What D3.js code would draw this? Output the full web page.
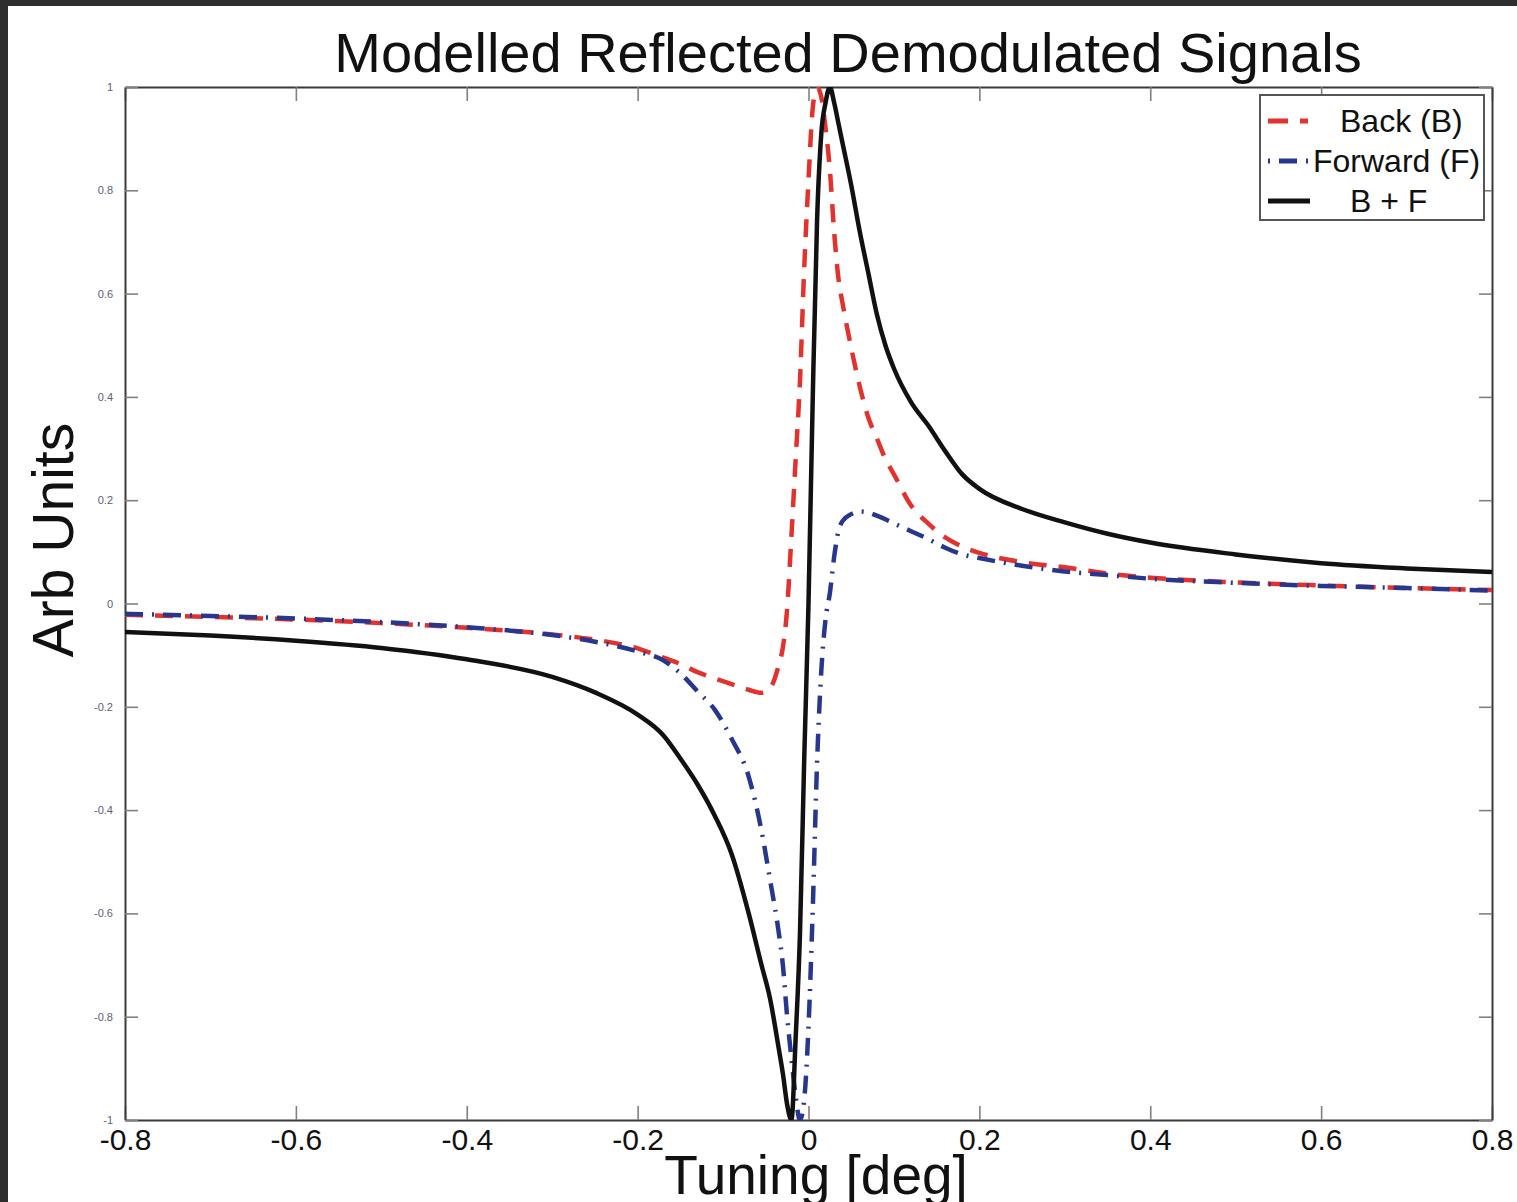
<!DOCTYPE html>
<html>
<head>
<meta charset="utf-8">
<script src="https://cdn.jsdelivr.net/npm/d3@7"></script>
<style>
body{margin:0;background:#2e2e2e;overflow:hidden}
svg{display:block}
text{font-family:"Liberation Sans",Arial,sans-serif}
</style>
</head>
<body>
<svg id="chart" width="1517" height="1202"></svg>
<script>
// tuning angle [deg], shared by the three modelled signals
var tuning = [-0.8,-0.7,-0.6,-0.5,-0.4,-0.3,-0.25,-0.2,
	-0.17,-0.15,-0.13,-0.11,-0.09,-0.07,-0.055,-0.045,-0.035,
	-0.03,-0.025,-0.02,-0.015,-0.01,-0.005,0,
	0.005,0.01,0.015,0.02,0.025,0.03,0.035,0.04,
	0.05,0.06,0.07,0.08,0.09,0.1,
	0.12,0.14,0.16,0.18,0.2,
	0.25,0.3,0.35,0.4,0.5,0.6,0.7,0.8];

var backSignal = [-0.022,-0.026,-0.031,-0.038,-0.047,-0.060,-0.070,-0.087,
	-0.105,-0.117,-0.133,-0.145,-0.156,-0.167,-0.173,-0.164,-0.12,
	-0.085,-0.01,0.13,0.28,0.43,0.65,0.82,
	0.96,1.0,0.98,0.92,0.84,0.72,0.63,0.58,
	0.495,0.42,0.36,0.32,0.28,0.25,
	0.19,0.155,0.128,0.11,0.098,
	0.08,0.07,0.058,0.05,0.041,0.035,0.030,0.026];

var forwardSignal = [-0.020,-0.024,-0.029,-0.036,-0.046,-0.061,-0.074,-0.093,
	-0.110,-0.135,-0.170,-0.205,-0.262,-0.335,-0.44,-0.535,-0.635,
	-0.70,-0.80,-0.88,-0.955,-1.0,-0.96,-0.82,
	-0.59,-0.31,-0.13,-0.03,0.02,0.09,0.14,0.16,
	0.173,0.178,0.176,0.17,0.163,0.155,
	0.14,0.125,0.108,0.095,0.088,
	0.073,0.062,0.055,0.048,0.040,0.034,0.030,0.025];

var sumSignal = [-0.055,-0.062,-0.072,-0.086,-0.108,-0.142,-0.172,-0.215,
	-0.255,-0.30,-0.35,-0.41,-0.485,-0.60,-0.70,-0.765,-0.86,
	-0.91,-0.97,-1.0,-0.84,-0.64,-0.30,0.0,
	0.40,0.74,0.91,0.97,1.0,0.97,0.93,0.89,
	0.81,0.72,0.64,0.56,0.50,0.455,
	0.39,0.345,0.295,0.25,0.222,
	0.183,0.157,0.135,0.118,0.095,0.078,0.068,0.061];

var seriesNames = ["Back (B)", "Forward (F)", "B + F"];
var xTicks = [-0.8,-0.6,-0.4,-0.2,0,0.2,0.4,0.6,0.8];
var yTicks = [-1,-0.8,-0.6,-0.4,-0.2,0,0.2,0.4,0.6,0.8,1];

var svg = d3.select('#chart');
var W = 1517, H = 1202;
var plotL = 125, plotR = 1492, plotT = 87, plotB = 1120;

// page: dark slide edge, white paper
svg.append('rect').attr('x', 8).attr('y', 6).attr('width', W - 8).attr('height', H - 6).attr('fill', '#fff');

var x = d3.scaleLinear().domain([-0.8, 0.8]).range([plotL, plotR]);
var y = d3.scaleLinear().domain([-1, 1]).range([plotB, plotT]);

function fmt(d){ return String(d).replace('\u2212', '-'); }

function styleAxis(g){
	g.select('.domain').attr('stroke', '#3a3a3a').attr('stroke-width', 2);
	g.selectAll('.tick line').attr('stroke', '#808080').attr('stroke-width', 1.6);
}

var gx = svg.append('g').attr('transform', 'translate(0,' + plotB + ')')
	.call(d3.axisBottom(x).tickValues(xTicks).tickSize(-14).tickSizeOuter(0).tickPadding(9).tickFormat(fmt));
gx.selectAll('text').attr('font-size', 30).attr('fill', '#111').attr('font-family', '"Liberation Sans",Arial,sans-serif');
styleAxis(gx);

var gxt = svg.append('g').attr('transform', 'translate(0,' + plotT + ')')
	.call(d3.axisTop(x).tickValues(xTicks).tickSize(-14).tickSizeOuter(0).tickFormat(''));
styleAxis(gxt);

var gy = svg.append('g').attr('transform', 'translate(' + plotL + ',0)')
	.call(d3.axisLeft(y).tickValues(yTicks).tickSize(-13).tickSizeOuter(0).tickPadding(12).tickFormat(fmt));
gy.selectAll('text').attr('font-size', 11).attr('fill', '#5a6078').attr('font-family', '"Liberation Sans Narrow","DejaVu Sans Condensed",sans-serif');
styleAxis(gy);

var gyr = svg.append('g').attr('transform', 'translate(' + plotR + ',0)')
	.call(d3.axisRight(y).tickValues(yTicks).tickSize(-13).tickSizeOuter(0).tickFormat(''));
styleAxis(gyr);

// curves
svg.append('clipPath').attr('id', 'plotClip').append('rect')
	.attr('x', plotL).attr('y', plotT).attr('width', plotR - plotL).attr('height', plotB - plotT);

var series = [
	{name: seriesNames[0], values: backSignal, color: '#e3312e', dash: '18,12', legDash: '20,12,8,12', legOff: 0},
	{name: seriesNames[1], values: forwardSignal, color: '#27378e', dash: '18,9,2,9', legDash: '2,9,18,9', legOff: 0},
	{name: seriesNames[2], values: sumSignal, color: '#111', dash: null, legDash: null, legOff: 0}
];

var line = d3.line()
	.x(function(d){ return x(d[0]); })
	.y(function(d){ return y(d[1]); })
	.curve(d3.curveMonotoneX);

var plot = svg.append('g').attr('clip-path', 'url(#plotClip)');
series.forEach(function(s){
	plot.append('path')
		.datum(d3.zip(tuning, s.values))
		.attr('d', line)
		.attr('fill', 'none')
		.attr('stroke', s.color)
		.attr('stroke-width', 4.5)
		.attr('stroke-linejoin', 'round')
		.attr('stroke-dasharray', s.dash);
});

// titles
svg.append('text').attr('x', 848).attr('y', 72).attr('text-anchor', 'middle')
	.attr('font-size', 56).attr('fill', '#111').text('Modelled Reflected Demodulated Signals');
svg.append('text').attr('x', 816).attr('y', 1194).attr('text-anchor', 'middle')
	.attr('font-size', 55).attr('fill', '#111').text('Tuning [deg]');
svg.append('text').attr('transform', 'translate(73,540) rotate(-90)').attr('text-anchor', 'middle')
	.attr('font-size', 57).attr('fill', '#111').text('Arb Units');

// legend
var leg = svg.append('g');
leg.append('rect').attr('x', 1260).attr('y', 95).attr('width', 224).attr('height', 125)
	.attr('fill', '#fff').attr('stroke', '#555').attr('stroke-width', 2);
var legX = [1340, 1313, 1350];
series.forEach(function(s, i){
	var ly = 121 + i * 40;
	leg.append('line').attr('x1', 1268).attr('x2', 1310).attr('y1', ly).attr('y2', ly)
		.attr('stroke', s.color).attr('stroke-width', 5)
		.attr('stroke-dasharray', s.legDash);
	leg.append('text').attr('x', legX[i]).attr('y', ly + 11)
		.attr('font-size', 32).attr('fill', '#111').text(s.name);
});
</script>
</body>
</html>
